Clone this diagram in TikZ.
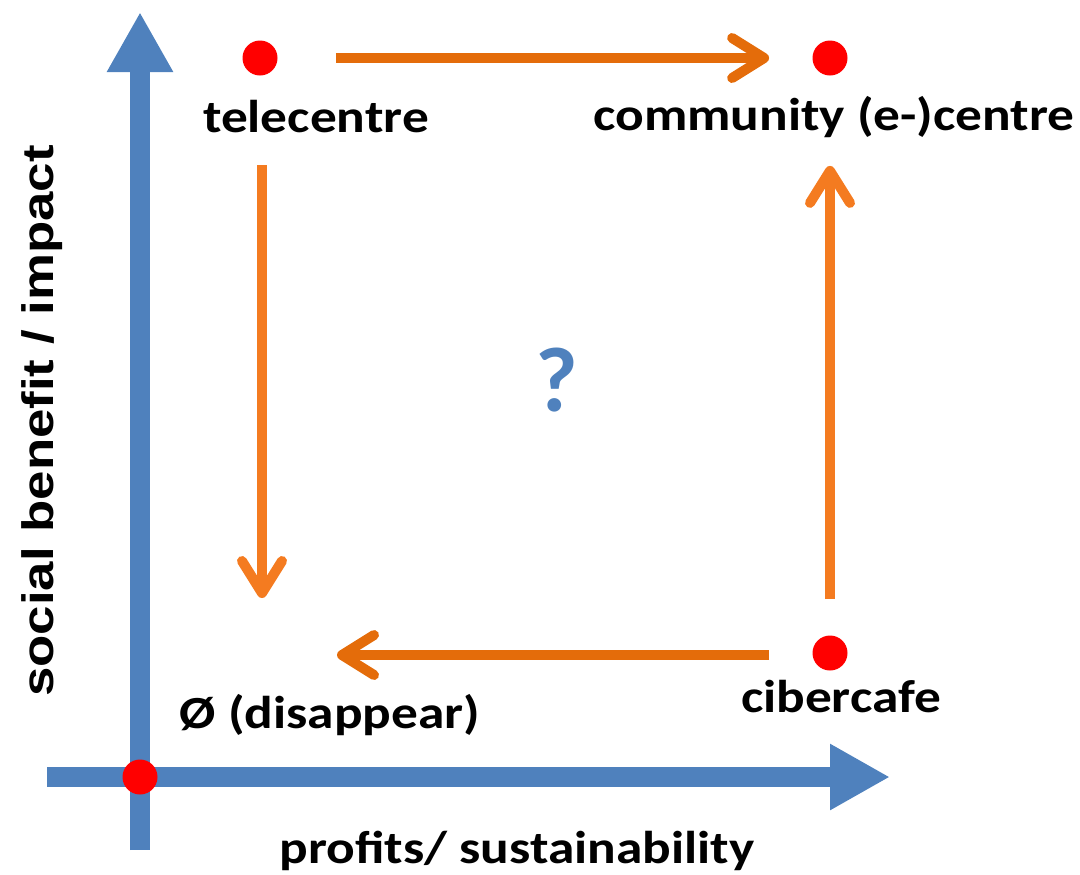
\documentclass[tikz,border=0pt]{standalone}
\usepackage{fontspec}
\setmainfont{Carlito}
\newfontfamily\axisfont{Liberation Sans}
\usetikzlibrary{arrows.meta}
\definecolor{axisblue}{HTML}{4F81BD}
\definecolor{flowdark}{HTML}{E46C0A}
\definecolor{flowlight}{HTML}{F47B20}
\tikzset{
  axis/.style={draw=axisblue, line width=10pt, -{Triangle[length=30pt, width=31pt]}},
  flow/.style={draw=flowdark, line width=5pt, -{Straight Barb[length=16pt, width=20pt, round]}},
  dot/.style={circle, fill=red, inner sep=0pt, minimum size=17.5pt},
  place/.style={font=\bfseries\fontsize{23}{27}\selectfont, anchor=base, inner sep=0pt, xscale=1.16},
}

\begin{document}
\begin{tikzpicture}[x=0.5pt, y=-0.5pt]
  \useasboundingbox (0,0) rectangle (1080,874);
  % axes
  \coordinate (ybot) at (140,850);
  \coordinate (ytop) at (140,12);
  \coordinate (xleft) at (47,777);
  \coordinate (xright) at (890,777);
  \draw[axis] (ybot) -- (ytop);
  \draw[axis] (xleft) -- (xright);
  \node[dot] (orig) at (140,777) {};
  \node[font=\axisfont\bfseries\fontsize{22}{26}\selectfont, rotate=90, xscale=1.2] (yname) at (42,421) {social benefit / impact};
  \node[place] (xname) at (517,863) {profits/ sustainability};
  % the four corners
  \node[dot] (teledot) at (260,58) {};
  \node[dot] (commdot) at (830,58) {};
  \node[dot] (ciberdot) at (830,653) {};
  \node[place] (tele) at (316,132) {telecentre};
  \node[place] (comm) at (834,130) {community (e-)centre};
  \node[place] (ciber) at (841,712) {cibercafe};
  \node[place] (gone) at (330,728) {Ø (disappear)};
  \node[font=\bfseries\fontsize{46}{50}\selectfont, text=axisblue] (ask) at (557,380) {?};
  % transitions
  \coordinate (downend) at (262,598);
  \coordinate (leftend) at (337,655);
  \draw[flow, shorten <=29pt, shorten >=21.5pt] (teledot) -- (commdot);
  \draw[flow, draw=flowlight, shorten <=18pt, shorten >=45pt] (ciberdot) -- (commdot);
  \draw[flow, shorten <=21.5pt] (ciberdot.west) ++(0,2) -- (leftend);
  \draw[flow, draw=flowlight] (262,165) -- (downend);
\end{tikzpicture}
\end{document}
